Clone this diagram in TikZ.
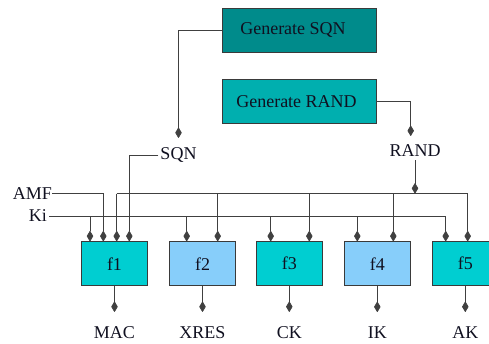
\documentclass[tikz,border=0pt]{standalone}
\usepackage{fontspec}
\setmainfont{Liberation Serif}
\usetikzlibrary{arrows.meta}

\definecolor{sqnfill}{HTML}{008B8B}
\definecolor{randfill}{HTML}{00AFAF}
\definecolor{fturq}{HTML}{00CED1}
\definecolor{fblue}{HTML}{87CEFA}
\definecolor{edge}{HTML}{3A3A3A}
\definecolor{wire}{HTML}{404040}
\definecolor{ink}{HTML}{101020}

\tikzset{
  genbox/.style={draw=edge, line width=0.8pt, minimum width=154pt, minimum height=44pt, inner sep=0pt, text=ink},
  fbox/.style={draw=edge, line width=0.8pt, minimum width=66pt, minimum height=44pt, inner sep=0pt, text=ink},
  lbl/.style={inner sep=0pt, anchor=base, text=ink},
  wireline/.style={draw=wire, line width=0.7pt},
  tipline/.style={wireline, -{Kite[length=11pt,width=6.5pt,inset=5.5pt,round]}},
}

\begin{document}
\begin{tikzpicture}[x=1pt, y=-1pt, font=\fontsize{18}{21}\selectfont]
\useasboundingbox (0,0) rectangle (489,343);
\clip (0,0) rectangle (489,343);

% generators
\node[genbox, fill=sqnfill] (gsqn) at (299,30.3) {Generate SQN\hspace*{12pt}};
\node[genbox, fill=randfill] (grand) at (299,101.3) {Generate RAND\hspace*{5pt}};

% inputs
\node[lbl] (sqn) at (178.5,159) {SQN};
\node[lbl] (rand) at (415,156) {RAND};
\node[lbl, anchor=base east] (amf) at (52,199.5) {AMF};
\node[lbl, anchor=base east] (ki) at (47,221.5) {Ki};

% function blocks
\node[fbox, fill=fturq] (f1) at (114.5,263.7) {f1};
\node[fbox, fill=fblue]  (f2) at (202.5,263.7) {f2};
\node[fbox, fill=fturq] (f3) at (289.3,263.7) {f3};
\node[fbox, fill=fblue]  (f4) at (377.3,263.7) {f4};
\node[fbox, fill=fturq] (f5) at (465.3,263.7) {f5};

% outputs
\node[lbl] (mac)  at (114.5,338) {MAC};
\node[lbl] (xres) at (202.5,338) {XRES};
\node[lbl] (ck)   at (289.3,338) {CK};
\node[lbl] (ik)   at (377.3,338) {IK};
\node[lbl] (ak)   at (465.3,338) {AK};

% rails and turning points
\coordinate (randbus) at (415,193.5);
\coordinate (amfturn) at (103.3,193.5);
\coordinate (kistart) at (49,216);
\coordinate (sqnrail) at (0,155.5);

% SQN path
\draw[tipline, shorten >=9pt] (gsqn.west) -| (sqn.north);
\draw[tipline] ([xshift=-2pt]sqn.west |- sqnrail) -| ([xshift=14.8pt]f1.north);

% RAND path
\draw[tipline, shorten >=8pt] (grand.east) -| ([xshift=-4.3pt]rand.north);
\draw[tipline] ([yshift=-4pt]rand.south) -- (randbus);
\draw[wireline] (116.7,193.5) -- (467.7,193.5);
\draw[tipline] (116.7,193.5) -- ([xshift=2.2pt]f1.north);
\draw[tipline] (217.7,193.5) -- ([xshift=15.2pt]f2.north);
\draw[tipline] (309.3,193.5) -- ([xshift=20pt]f3.north);
\draw[tipline] (393.3,193.5) -- ([xshift=16pt]f4.north);
\draw[tipline] (467.7,193.5) -- ([xshift=2.4pt]f5.north);

% AMF path
\draw[tipline] (amf.east |- amfturn) -| ([xshift=-11.2pt]f1.north);

% Ki path
\draw[wireline] (kistart) -- (445.7,216);
\draw[tipline] (90,216) -- ([xshift=-24.5pt]f1.north);
\draw[tipline] (186.7,216) -- ([xshift=-15.8pt]f2.north);
\draw[tipline] (270.7,216) -- ([xshift=-18.6pt]f3.north);
\draw[tipline] (357.3,216) -- ([xshift=-20pt]f4.north);
\draw[tipline] (445.7,216) -- ([xshift=-19.6pt]f5.north);

% outputs
\draw[tipline, shorten >=14pt] (f1.south) -- (mac.north);
\draw[tipline, shorten >=14pt] (f2.south) -- (xres.north);
\draw[tipline, shorten >=14pt] (f3.south) -- (ck.north);
\draw[tipline, shorten >=14pt] (f4.south) -- (ik.north);
\draw[tipline, shorten >=14pt] (f5.south) -- (ak.north);
\end{tikzpicture}
\end{document}
